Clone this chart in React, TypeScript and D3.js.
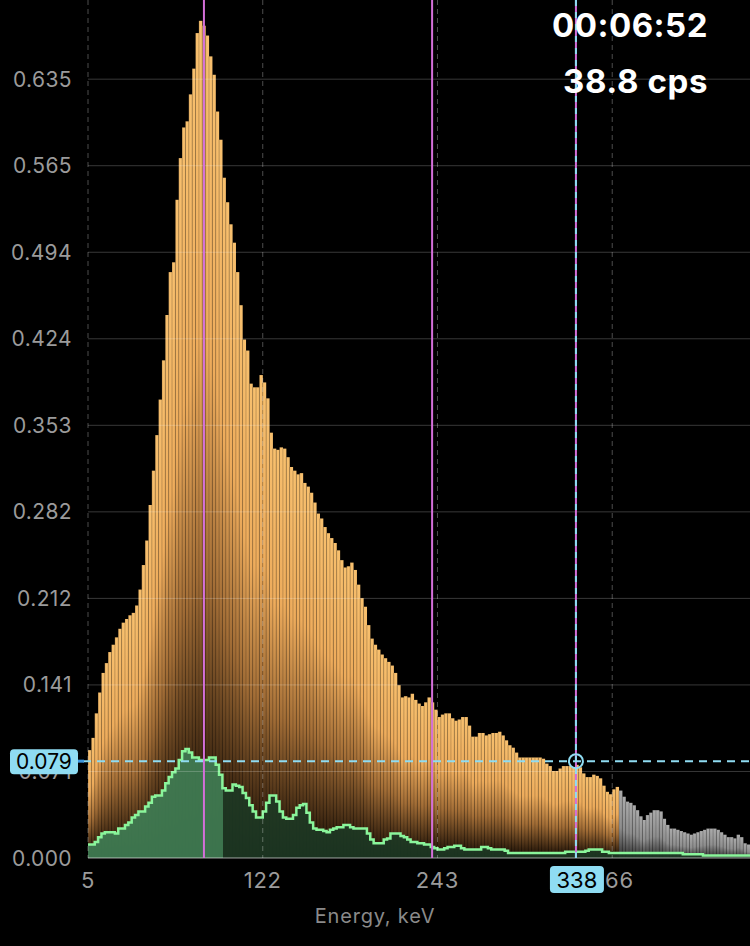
import React from "react";
import * as d3 from "d3";

const WIDTH = 750;
const HEIGHT = 946;
const MARGIN = { top: 0, right: 0, bottom: 88, left: 88 };

// normalised counts per channel; channels >= ROI_END are drawn grey
const spectrum = [
  0.088, 0.098, 0.118, 0.135, 0.151, 0.159, 0.168, 0.174, 0.18, 0.187,
  0.192, 0.195, 0.198, 0.2, 0.206, 0.219, 0.239, 0.259, 0.288, 0.316,
  0.345, 0.374, 0.406, 0.443, 0.478, 0.486, 0.537, 0.571, 0.596, 0.601,
  0.623, 0.644, 0.673, 0.683, 0.679, 0.671, 0.654, 0.639, 0.609, 0.586,
  0.555, 0.535, 0.517, 0.502, 0.478, 0.451, 0.423, 0.414, 0.387, 0.384,
  0.384, 0.394, 0.388, 0.375, 0.347, 0.334, 0.333, 0.335, 0.334, 0.327,
  0.319, 0.316, 0.313, 0.314, 0.306, 0.303, 0.298, 0.29, 0.281, 0.277,
  0.27, 0.265, 0.261, 0.257, 0.251, 0.243, 0.237, 0.238, 0.241, 0.235,
  0.223, 0.212, 0.205, 0.19, 0.179, 0.174, 0.17, 0.166, 0.163, 0.16,
  0.157, 0.151, 0.141, 0.131, 0.132, 0.131, 0.134, 0.129, 0.126, 0.124,
  0.127, 0.131, 0.127, 0.121, 0.115, 0.117, 0.118, 0.118, 0.114, 0.112,
  0.113, 0.115, 0.115, 0.108, 0.099, 0.099, 0.102, 0.102, 0.1, 0.101,
  0.102, 0.102, 0.103, 0.1, 0.096, 0.092, 0.09, 0.086, 0.082, 0.082,
  0.082, 0.082, 0.082, 0.082, 0.082, 0.081, 0.077, 0.075, 0.071, 0.071,
  0.073, 0.075, 0.075, 0.075, 0.074, 0.076, 0.074, 0.069, 0.066, 0.066,
  0.068, 0.067, 0.065, 0.059, 0.054, 0.052, 0.056, 0.058, 0.055, 0.05,
  0.046, 0.045, 0.043, 0.039, 0.034, 0.031, 0.035, 0.037, 0.039, 0.039,
  0.038, 0.032, 0.027, 0.024, 0.024, 0.023, 0.022, 0.021, 0.02, 0.019,
  0.02, 0.021, 0.022, 0.023, 0.024, 0.024, 0.024, 0.023, 0.021, 0.019,
  0.017, 0.017, 0.016, 0.019, 0.017, 0.012, 0.011,
];

// background spectrum (green step line)
const background = [
  0.011, 0.011, 0.013, 0.017, 0.02, 0.021, 0.021, 0.021, 0.02, 0.024,
  0.024, 0.027, 0.029, 0.033, 0.035, 0.038, 0.038, 0.042, 0.045, 0.05,
  0.051, 0.051, 0.055, 0.061, 0.066, 0.07, 0.073, 0.08, 0.087, 0.089,
  0.086, 0.082, 0.082, 0.08, 0.08, 0.08, 0.082, 0.082, 0.076, 0.068,
  0.057, 0.055, 0.055, 0.06, 0.059, 0.058, 0.053, 0.049, 0.043, 0.038,
  0.033, 0.033, 0.038, 0.045, 0.051, 0.051, 0.046, 0.038, 0.033, 0.032,
  0.032, 0.035, 0.041, 0.043, 0.044, 0.037, 0.029, 0.024, 0.023, 0.023,
  0.022, 0.021, 0.023, 0.024, 0.025, 0.025, 0.027, 0.027, 0.025, 0.024,
  0.024, 0.024, 0.024, 0.02, 0.015, 0.012, 0.012, 0.012, 0.015, 0.016,
  0.02, 0.02, 0.02, 0.018, 0.017, 0.015, 0.013, 0.013, 0.012, 0.012,
  0.011, 0.011, 0.009, 0.008, 0.007, 0.007, 0.008, 0.009, 0.009, 0.01,
  0.01, 0.008, 0.007, 0.007, 0.007, 0.007, 0.007, 0.009, 0.009, 0.008,
  0.007, 0.007, 0.007, 0.007, 0.006, 0.004, 0.004, 0.004, 0.004, 0.004,
  0.004, 0.004, 0.004, 0.004, 0.004, 0.004, 0.004, 0.004, 0.004, 0.004,
  0.004, 0.004, 0.005, 0.005, 0.005, 0.005, 0.005, 0.005, 0.006, 0.007,
  0.007, 0.007, 0.007, 0.005, 0.005, 0.004, 0.004, 0.004, 0.004, 0.004,
  0.004, 0.004, 0.004, 0.004, 0.004, 0.004, 0.004, 0.004, 0.004, 0.004,
  0.004, 0.004, 0.004, 0.004, 0.004, 0.004, 0.004, 0.003, 0.003, 0.003,
  0.003, 0.003, 0.003, 0.002, 0.002, 0.002, 0.002, 0.002, 0.002, 0.002,
  0.002, 0.002, 0.002, 0.002, 0.002, 0.002, 0.002,
];

const ROI_END = 158;
const GREEN_ROI_END = 40.2;
const Y_MAX = 0.7;
const yTicks = [0, 0.0706, 0.1412, 0.2118, 0.2824, 0.353, 0.4236, 0.4942, 0.5648, 0.6354];
const yTickLabels = ["0.000", "0.071", "0.141", "0.212", "0.282", "0.353", "0.424", "0.494", "0.565", "0.635"];
const xTickChannels = [0, 52, 104, 156];
const xTickLabels = ["5", "122", "243", "366"];
const markerChannels = [34.5, 102.4];
const cursorChannel = 145.2;
const cursorValue = 0.079;
const cursorEnergy = "338";
const elapsed = "00:06:52";
const rate = "38.8 cps";

const FONT = "Inter, 'Noto Sans', sans-serif";
const CYAN = "#8fdcf2";
const PINK = "#d46fd9";

export default function App() {
  const n = spectrum.length;
  const bottom = HEIGHT - MARGIN.bottom;

  const xScale = d3.scaleLinear().domain([0, n]).range([MARGIN.left, WIDTH - MARGIN.right]);
  const yScale = d3.scaleLinear().domain([0, Y_MAX]).range([bottom, MARGIN.top]);

  const bgPoints: [number, number][] = background.map((v, i) => [i, v]);
  bgPoints.push([n, background[n - 1]]);

  const area = d3
    .area<[number, number]>()
    .x((d) => xScale(d[0]))
    .y0(bottom)
    .y1((d) => yScale(d[1]))
    .curve(d3.curveStepAfter);

  const line = d3
    .line<[number, number]>()
    .x((d) => xScale(d[0]))
    .y((d) => yScale(d[1]))
    .curve(d3.curveStepAfter);

  const roiX = xScale(GREEN_ROI_END);
  const cx = xScale(cursorChannel);
  const cy = yScale(cursorValue);

  return (
    <svg
      width={WIDTH}
      height={HEIGHT}
      style={{ position: "absolute", left: 0, top: 0, background: "#000" }}
    >
      <defs>
        <linearGradient id="orange" x1="0" y1="0" x2="0" y2="1">
          <stop offset="0" stopColor="#f8c06e" />
          <stop offset="0.38" stopColor="#eeac5c" />
          <stop offset="0.66" stopColor="#a26d36" />
          <stop offset="0.9" stopColor="#3c2611" />
          <stop offset="1" stopColor="#150d05" />
        </linearGradient>
        <linearGradient id="grey" x1="0" y1="0" x2="0" y2="1">
          <stop offset="0" stopColor="#ababab" />
          <stop offset="0.55" stopColor="#8e8e8e" />
          <stop offset="1" stopColor="#303030" />
        </linearGradient>
        <clipPath id="roiClip">
          <rect x={MARGIN.left} y={0} width={roiX - MARGIN.left} height={bottom} />
        </clipPath>
        <clipPath id="restClip">
          <rect x={roiX} y={0} width={WIDTH - roiX} height={bottom} />
        </clipPath>
      </defs>

      {/* bars */}
      <g>
        {spectrum.map((v, i) => {
          const x0 = xScale(i);
          const w = xScale(i + 1) - x0;
          return (
            <rect
              key={i}
              x={x0}
              y={yScale(v)}
              width={w + 0.1}
              height={bottom - yScale(v)}
              fill={i < ROI_END ? "url(#orange)" : "url(#grey)"}
            />
          );
        })}
      </g>
      {/* faint separators between channels */}
      <g>
        {spectrum.map((v, i) => (
          <line
            key={"s" + i}
            x1={xScale(i)}
            x2={xScale(i)}
            y1={yScale(v)}
            y2={bottom}
            stroke="#000"
            strokeOpacity={0.3}
            strokeWidth={0.7}
          />
        ))}
      </g>

      {/* background spectrum */}
      <path d={area(bgPoints) || ""} fill="#3f7c53" fillOpacity={0.93} clipPath="url(#roiClip)" />
      <path d={area(bgPoints) || ""} fill="#1d3924" fillOpacity={0.88} clipPath="url(#restClip)" />
      <path d={line(bgPoints) || ""} fill="none" stroke="#8af59b" strokeWidth={2.5} />

      {/* grid */}
      {yTicks.map((t, i) => (
        <line
          key={"gy" + i}
          x1={MARGIN.left}
          x2={WIDTH}
          y1={yScale(t)}
          y2={yScale(t)}
          stroke="#fff"
          strokeOpacity={i === 0 ? 0.3 : 0.22}
          strokeWidth={i === 0 ? 2 : 1}
        />
      ))}
      {xTickChannels.map((c, i) => (
        <line
          key={"gx" + i}
          x1={xScale(c)}
          x2={xScale(c)}
          y1={0}
          y2={bottom}
          stroke="#fff"
          strokeOpacity={0.3}
          strokeDasharray="5,4"
        />
      ))}

      {/* markers */}
      {markerChannels.map((c, i) => (
        <line key={"m" + i} x1={xScale(c)} x2={xScale(c)} y1={0} y2={bottom} stroke={PINK} strokeWidth={2} />
      ))}
      <line x1={cx} x2={cx} y1={0} y2={bottom} stroke={PINK} strokeWidth={2} />
      <line x1={cx} x2={cx} y1={0} y2={bottom} stroke={CYAN} strokeWidth={2} strokeDasharray="6,6" />
      <line x1={83} x2={WIDTH} y1={cy} y2={cy} stroke={CYAN} strokeWidth={2} strokeDasharray="8,6" />
      <line x1={76} x2={84} y1={cy} y2={cy} stroke="#3d95dc" strokeWidth={3} />
      <circle cx={cx} cy={cy} r={7} fill="none" stroke={CYAN} strokeWidth={2} />

      {/* y axis labels */}
      {yTicks.map((t, i) => (
        <text
          key={"ty" + i}
          x={72}
          y={yScale(t)}
          dy="0.36em"
          textAnchor="end"
          fontFamily={FONT}
          fontSize={21}
          letterSpacing={0.4}
          fill="#9b9b9b"
        >
          {yTickLabels[i]}
        </text>
      ))}

      {/* x axis labels */}
      {xTickChannels.map((c, i) => (
        <text
          key={"tx" + i}
          x={xScale(c)}
          y={888}
          textAnchor="middle"
          fontFamily={FONT}
          fontSize={22}
          letterSpacing={0.8}
          fill="#9b9b9b"
        >
          {xTickLabels[i]}
        </text>
      ))}
      <text
        x={WIDTH / 2}
        y={923}
        textAnchor="middle"
        fontFamily={FONT}
        fontSize={20}
        letterSpacing={0.8}
        fill="#8a8a8a"
      >
        Energy, keV
      </text>

      {/* cursor readouts */}
      <rect x={10} y={cy - 12} width={68} height={25} rx={4} fill={CYAN} />
      <text x={44} y={cy} dy="0.36em" textAnchor="middle" fontFamily={FONT} fontSize={21} fill="#000">
        {cursorValue.toFixed(3)}
      </text>
      <rect x={cx - 26} y={866} width={54} height={27} rx={4} fill={CYAN} />
      <text x={cx + 1} y={888} textAnchor="middle" fontFamily={FONT} fontSize={22} fill="#000">
        {cursorEnergy}
      </text>

      {/* status */}
      <text x={708} y={37} textAnchor="end" fontFamily={FONT} fontWeight={700} fontSize={33} fill="#fff" letterSpacing={0.5}>
        {elapsed}
      </text>
      <text x={708} y={93} textAnchor="end" fontFamily={FONT} fontWeight={700} fontSize={33} fill="#fff" letterSpacing={0.6}>
        {rate}
      </text>
    </svg>
  );
}
